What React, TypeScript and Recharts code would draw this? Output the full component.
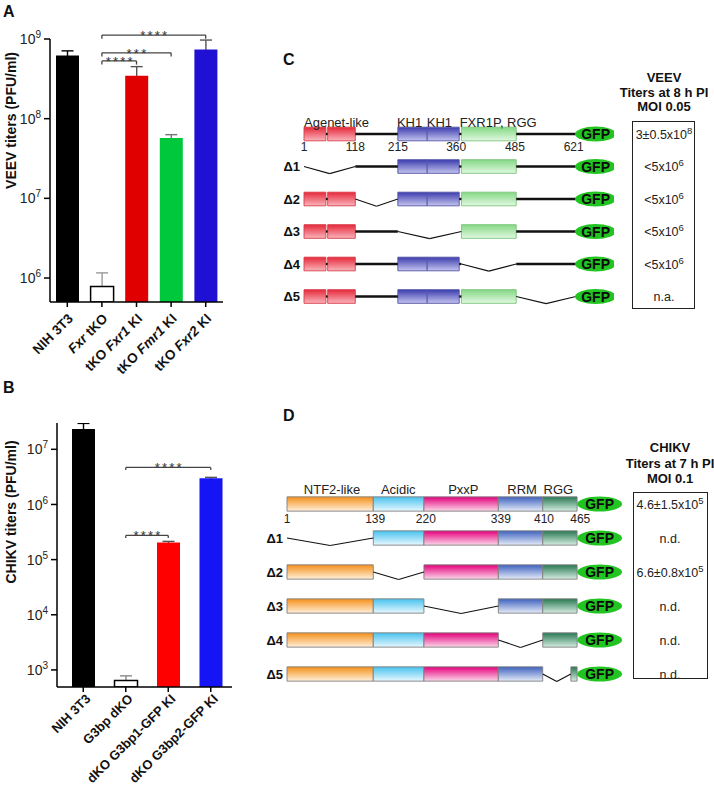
import React from "react";
import {
  BarChart,
  Bar,
  Cell,
  XAxis,
  YAxis,
  ReferenceLine,
  ReferenceArea,
  ReferenceDot,
  ComposedChart,
  Scatter,
} from "recharts";

const FONT = '"Liberation Sans", Arial, Helvetica, sans-serif';

// ---------- A: VEEV titers ----------
const A_CATEGORIES = ["NIH 3T3", "Fxr tKO", "tKO Fxr1 KI", "tKO Fmr1 KI", "tKO Fxr2 KI"];
const A_ITALIC = ["", "Fxr", "Fxr1", "Fmr1", "Fxr2"];
const A_TITERS = [6.2e8, 7.8e5, 3.45e8, 5.7e7, 7.4e8];
const A_ERR_TOP = [7.1e8, 1.16e6, 4.5e8, 6.3e7, 9.7e8];
const A_TICKS = [1e6, 1e7, 1e8, 1e9];
const A_SIG = [
  { from: "Fxr tKO", to: "tKO Fxr2 KI", y: 1.12e9, stars: "****" },
  { from: "Fxr tKO", to: "tKO Fmr1 KI", y: 6.7e8, stars: "***" },
  { from: "Fxr tKO", to: "tKO Fxr1 KI", y: 5.3e8, stars: "****" },
];

// ---------- B: CHIKV titers ----------
const B_CATEGORIES = ["NIH 3T3", "G3bp dKO", "dKO G3bp1-GFP KI", "dKO G3bp2-GFP KI"];
const B_TITERS = [2.33e7, 640, 2.05e5, 3.0e6];
const B_ERR_TOP = [2.95e7, 780, 2.14e5, 3.1e6];
const B_TICKS = [1e3, 1e4, 1e5, 1e6, 1e7];
const B_SIG = [
  { from: "G3bp dKO", to: "dKO G3bp2-GFP KI", y: 4.7e6, stars: "****" },
  { from: "G3bp dKO", to: "dKO G3bp1-GFP KI", y: 2.75e5, stars: "****" },
];

// ---------- C: FXR constructs (aa positions) ----------
const ROWS = [0, 1, 2, 3, 4, 5];
const C_PIECES = [
  { from: 1, to: 51, kind: "agenet" },
  { from: 51, to: 55, kind: "linker" },
  { from: 55, to: 118, kind: "agenet" },
  { from: 118, to: 215, kind: "linker" },
  { from: 215, to: 282, kind: "kh" },
  { from: 282, to: 355, kind: "kh" },
  { from: 355, to: 360, kind: "linker" },
  { from: 360, to: 485, kind: "rgg" },
  { from: 485, to: 621, kind: "linker" },
];
const C_DELETIONS = [
  [1, 118],
  [118, 215],
  [215, 360],
  [360, 485],
  [485, 621],
];
const C_DOMAIN_LABELS = [
  { text: "Agenet-like", at: 1 },
  { text: "KH1", at: 213 },
  { text: "KH1", at: 281 },
  { text: "FXR1P, RGG", at: 356 },
];
const C_POSITIONS = [
  { text: "1", at: 1 },
  { text: "118", at: 118 },
  { text: "215", at: 215 },
  { text: "360", at: 348 },
  { text: "485", at: 482 },
  { text: "621", at: 616 },
];
const C_TITERS = [
  ["3\u00b10.5x10", "8"],
  ["<5x10", "6"],
  ["<5x10", "6"],
  ["<5x10", "6"],
  ["<5x10", "6"],
  ["n.a.", ""],
];
const C_GFP_AT = 666;

// ---------- D: G3BP constructs ----------
const D_PIECES = [
  { from: 1, to: 139, kind: "ntf2" },
  { from: 139, to: 220, kind: "acidic" },
  { from: 220, to: 339, kind: "pxxp" },
  { from: 339, to: 410, kind: "rrm" },
  { from: 410, to: 465, kind: "rggD" },
];
const D_DELETIONS = [
  [1, 139],
  [139, 220],
  [220, 339],
  [339, 410],
  [410, 455],
];
const D_DOMAIN_LABELS = [
  { text: "NTF2-like", at: 73 },
  { text: "Acidic", at: 179 },
  { text: "PxxP", at: 283 },
  { text: "RRM", at: 377 },
  { text: "RGG", at: 435 },
];
const D_POSITIONS = [
  { text: "1", at: 1 },
  { text: "139", at: 142 },
  { text: "220", at: 223 },
  { text: "339", at: 343 },
  { text: "410", at: 412 },
  { text: "465", at: 470 },
];
const D_TITERS = [
  ["4.6\u00b11.5x10", "5"],
  ["n.d.", ""],
  ["6.6\u00b10.8x10", "5"],
  ["n.d.", ""],
  ["n.d.", ""],
  ["n.d.", ""],
];
const D_GFP_AT = 501;

// ---------- styles ----------
const A_COLORS = ["#000000", "#ffffff", "#e00000", "#00c83c", "#2010d4"];
const A_ERR_COLORS = ["#000", "#999", "#555", "#777", "#555"];
const B_COLORS = ["#000000", "#ffffff", "#ff0000", "#1414f5"];
const B_ERR_COLORS = ["#000", "#888", "#555", "#555"];

const DOMAIN_STYLE: Record<string, { top: string; bottom: string; stroke: string }> = {
  agenet: { top: "#e6283a", bottom: "#f9b5bc", stroke: "#d8404c" },
  kh: { top: "#3c3cae", bottom: "#c4c4ef", stroke: "#5656a6" },
  rgg: { top: "#84d884", bottom: "#e2f8e2", stroke: "#7cc47c" },
  ntf2: { top: "#f5901a", bottom: "#fff0dc", stroke: "#808080" },
  acidic: { top: "#48c2ee", bottom: "#e8f8fe", stroke: "#808080" },
  pxxp: { top: "#e4007c", bottom: "#fcd8ea", stroke: "#808080" },
  rrm: { top: "#3e62bf", bottom: "#e6ecf8", stroke: "#808080" },
  rggD: { top: "#277852", bottom: "#d8ede2", stroke: "#808080" },
};

// ---------- helpers ----------
function CategoryTick(props: any) {
  const { x, payload, index, italics, fsz, offX, baseY } = props;
  const name: string = payload.value;
  const word: string = italics ? italics[index] : "";
  const pos = word ? name.indexOf(word) : -1;
  const spans =
    pos < 0
      ? [{ t: name, i: false }]
      : [
          { t: name.slice(0, pos), i: false },
          { t: word, i: true },
          { t: name.slice(pos + word.length), i: false },
        ].filter((s) => s.t);
  return (
    <g transform={`translate(${x + offX},${baseY})`}>
      <text
        transform="rotate(-45)"
        textAnchor="end"
        dy="0.35em"
        fontFamily={FONT}
        fontSize={fsz}
        fontWeight="bold"
        fill="#111"
      >
        {spans.map((s, k) => (
          <tspan key={k} fontStyle={s.i ? "italic" : "normal"}>
            {s.t}
          </tspan>
        ))}
      </text>
    </g>
  );
}

function PowerTick({ x, y, payload }: any) {
  const e = Math.round(Math.log10(payload.value));
  return (
    <text x={x - 1} y={y} dy="0.36em" textAnchor="end" fontFamily={FONT} fontSize={14} fill="#222">
      <tspan>10</tspan>
      <tspan dy={-6} fontSize={10}>
        {e}
      </tspan>
    </text>
  );
}

function AxisTitle({ viewBox, caption, shift }: any) {
  const x = 11;
  const y = viewBox.y + viewBox.height / 2 + shift;
  return (
    <text
      x={x}
      y={y}
      transform={`rotate(-90 ${x} ${y})`}
      textAnchor="middle"
      dominantBaseline="central"
      fontFamily={FONT}
      fontSize={14}
      fontWeight="bold"
      fill="#111"
    >
      {caption}
    </text>
  );
}

function Stars({ viewBox, stars }: any) {
  return (
    <text
      x={viewBox.x + viewBox.width / 2 + 1}
      y={viewBox.y + 5}
      textAnchor="middle"
      fontFamily={FONT}
      fontSize={13}
      fill="#333"
      letterSpacing={2.2}
    >
      {stars}
    </text>
  );
}

function ErrorWhisker(props: any) {
  const { x, y, width, height, index, colors } = props;
  const cx = x + width / 2;
  return (
    <g stroke={colors[index]} strokeWidth={1.4}>
      <line x1={cx} x2={cx} y1={y} y2={y + height} />
      <line x1={cx - 6} x2={cx + 6} y1={y} y2={y} />
    </g>
  );
}

type Sig = { from: string; to: string; y: number; stars: string };

function TiterChart(props: {
  categories: string[];
  titers: number[];
  errTop: number[];
  italics?: string[];
  colors: string[];
  errColors: string[];
  ticks: number[];
  domain: [number, number];
  sig: Sig[];
  caption: string;
  shift: number;
  width: number;
  height: number;
  margin: { top: number; right: number; bottom: number; left: number };
  yWidth: number;
  xHeight: number;
  padLeft: number;
  labelSize: number;
  labelOffX: number;
  labelOffY: number;
}) {
  const data = props.categories.map((name, i) => ({
    name,
    titer: props.titers[i],
    err: props.errTop[i],
  }));
  const axis = { stroke: "#000", strokeWidth: 1.5 };
  const axisY = props.height - props.margin.bottom - props.xHeight;
  return (
    <BarChart
      width={props.width}
      height={props.height}
      data={data}
      margin={props.margin}
      barSize={23}
      barGap={-23}
    >
      <XAxis
        dataKey="name"
        interval={0}
        height={props.xHeight}
        padding={{ left: props.padLeft, right: 0 }}
        axisLine={axis}
        tickLine={axis}
        tickSize={5}
        tickMargin={2}
        tick={
          <CategoryTick
            italics={props.italics}
            fsz={props.labelSize}
            offX={props.labelOffX}
            baseY={axisY + props.labelOffY}
          />
        }
      />
      <YAxis
        type="number"
        scale="log"
        domain={props.domain}
        allowDataOverflow
        ticks={props.ticks}
        interval={0}
        width={props.yWidth}
        axisLine={axis}
        tickLine={axis}
        tickSize={6}
        tick={<PowerTick />}
        label={<AxisTitle caption={props.caption} shift={props.shift} />}
      />
      <Bar
        dataKey="err"
        isAnimationActive={false}
        shape={(p: any) => <ErrorWhisker {...p} colors={props.errColors} />}
      />
      <Bar dataKey="titer" isAnimationActive={false}>
        {data.map((d, i) => (
          <Cell
            key={d.name}
            fill={props.colors[i]}
            stroke={props.colors[i] === "#ffffff" ? "#000" : "none"}
            strokeWidth={1.5}
          />
        ))}
      </Bar>
      {props.sig.flatMap((s, k) => [
        <ReferenceLine
          key={`h${k}`}
          segment={[
            { x: s.from, y: s.y },
            { x: s.to, y: s.y },
          ]}
          stroke="#444"
          strokeWidth={1.3}
          ifOverflow="visible"
          label={<Stars stars={s.stars} />}
        />,
        <ReferenceLine
          key={`l${k}`}
          segment={[
            { x: s.from, y: s.y },
            { x: s.from, y: s.y * 0.9 },
          ]}
          stroke="#444"
          strokeWidth={1.3}
          ifOverflow="visible"
        />,
        <ReferenceLine
          key={`r${k}`}
          segment={[
            { x: s.to, y: s.y },
            { x: s.to, y: s.y * 0.9 },
          ]}
          stroke="#444"
          strokeWidth={1.3}
          ifOverflow="visible"
        />,
      ])}
    </BarChart>
  );
}

// ---------- domain maps ----------
function subtract(a: number, b: number, del: number[] | null): number[][] {
  if (!del || b <= del[0] || a >= del[1]) return [[a, b]];
  const out: number[][] = [];
  if (a < del[0]) out.push([a, del[0]]);
  if (b > del[1]) out.push([del[1], b]);
  return out;
}

function DeltaTick({ x, y, payload }: any) {
  return (
    <text x={x} y={y} dy="0.36em" textAnchor="end" fontFamily={FONT} fontSize={13} fontWeight="bold" fill="#111">
      {"\u0394" + payload.value}
    </text>
  );
}

function TiterTick({ x, y, payload, titers, offset }: any) {
  const t = titers[payload.value];
  return (
    <text x={x + offset} y={y} dy="0.36em" textAnchor="middle" fontFamily={FONT} fontSize={12.5} fill="#222">
      <tspan>{t[0]}</tspan>
      {t[1] ? (
        <tspan dy={-5} fontSize={9.5}>
          {t[1]}
        </tspan>
      ) : null}
    </text>
  );
}

function GfpShape({ cx, cy, rx }: any) {
  return (
    <g>
      <ellipse cx={cx} cy={cy} rx={rx} ry={7.5} fill="#22c422" />
      <text x={cx} y={cy} dy="0.36em" textAnchor="middle" fontFamily={FONT} fontSize={14} fontWeight="bold" fill="#0a0a0a">
        GFP
      </text>
    </g>
  );
}

function DomainChart(props: {
  id: string;
  pieces: { from: number; to: number; kind: string }[];
  deletions: number[][];
  labels: { text: string; at: number }[];
  positions: { text: string; at: number }[];
  titers: string[][];
  gfpAt: number;
  gfpRx: number;
  labelAnchor: "start" | "middle";
  labelY: number;
  numberY: number;
  width: number;
  height: number;
  margin: { top: number; right: number; bottom: number; left: number };
  leftW: number;
  rightW: number;
  xMax: number;
  titerOffset: number;
}) {
  const h = 0.21;
  const dip = 0.22;
  const els: React.ReactNode[] = [];
  ROWS.forEach((r) => {
    const del = r === 0 ? null : props.deletions[r - 1];
    props.pieces.forEach((p, k) => {
      subtract(p.from, p.to, del).forEach(([a, b], j) => {
        const key = `${r}-${k}-${j}`;
        if (p.kind === "linker") {
          els.push(
            <ReferenceLine
              key={key}
              yAxisId="left"
              segment={[
                { x: a, y: r },
                { x: b, y: r },
              ]}
              stroke="#111"
              strokeWidth={2.3}
              ifOverflow="visible"
            />
          );
        } else {
          els.push(
            <ReferenceArea
              key={key}
              yAxisId="left"
              x1={a}
              x2={b}
              y1={r - h}
              y2={r + h}
              fill={`url(#${props.id}-${p.kind})`}
              fillOpacity={1}
              stroke={DOMAIN_STYLE[p.kind].stroke}
              strokeWidth={0.9}
              ifOverflow="visible"
            />
          );
        }
      });
    });
    if (del) {
      const mid = (del[0] + del[1]) / 2;
      els.push(
        <ReferenceLine
          key={`v1-${r}`}
          yAxisId="left"
          segment={[
            { x: del[0], y: r },
            { x: mid, y: r + dip },
          ]}
          stroke="#111"
          strokeWidth={1.1}
          ifOverflow="visible"
        />,
        <ReferenceLine
          key={`v2-${r}`}
          yAxisId="left"
          segment={[
            { x: mid, y: r + dip },
            { x: del[1], y: r },
          ]}
          stroke="#111"
          strokeWidth={1.1}
          ifOverflow="visible"
        />
      );
    }
  });
  const kinds = Array.from(new Set(props.pieces.map((p) => p.kind))).filter((k) => k !== "linker");
  return (
    <ComposedChart width={props.width} height={props.height} margin={props.margin}>
      <defs>
        {kinds.map((k) => (
          <linearGradient key={k} id={`${props.id}-${k}`} x1="0" y1="0" x2="0" y2="1">
            <stop offset="0%" stopColor={DOMAIN_STYLE[k].top} />
            <stop offset="100%" stopColor={DOMAIN_STYLE[k].bottom} />
          </linearGradient>
        ))}
      </defs>
      <XAxis type="number" dataKey="x" domain={[1, props.xMax]} allowDataOverflow hide />
      <YAxis
        yAxisId="left"
        type="number"
        domain={[-1, 6]}
        reversed
        allowDataOverflow
        ticks={[1, 2, 3, 4, 5]}
        interval={0}
        width={props.leftW}
        axisLine={false}
        tickLine={false}
        tickSize={0}
        tickMargin={4}
        tick={<DeltaTick />}
      />
      <YAxis
        yAxisId="right"
        orientation="right"
        type="number"
        domain={[-1, 6]}
        reversed
        allowDataOverflow
        ticks={ROWS}
        interval={0}
        width={props.rightW}
        axisLine={false}
        tickLine={false}
        tickSize={0}
        tickMargin={0}
        tick={<TiterTick titers={props.titers} offset={props.titerOffset} />}
      />
      {els}
      {props.labels.map((l, k) => (
        <ReferenceDot
          key={`lab${k}`}
          yAxisId="left"
          x={l.at}
          y={props.labelY}
          r={0}
          ifOverflow="visible"
          shape={(p: any) => (
            <text x={p.cx} y={p.cy} textAnchor={props.labelAnchor} fontFamily={FONT} fontSize={13} fill="#222">
              {l.text}
            </text>
          )}
        />
      ))}
      {props.positions.map((l, k) => (
        <ReferenceDot
          key={`pos${k}`}
          yAxisId="left"
          x={l.at}
          y={props.numberY}
          r={0}
          ifOverflow="visible"
          shape={(p: any) => (
            <text x={p.cx} y={p.cy} textAnchor="middle" fontFamily={FONT} fontSize={12} fill="#222">
              {l.text}
            </text>
          )}
        />
      ))}
      <Scatter
        yAxisId="left"
        data={ROWS.map((r) => ({ x: props.gfpAt, y: r }))}
        dataKey="y"
        isAnimationActive={false}
        shape={<GfpShape rx={props.gfpRx} />}
      />
    </ComposedChart>
  );
}

const letter: React.CSSProperties = {
  position: "absolute",
  fontFamily: FONT,
  fontWeight: "bold",
  fontSize: 16,
  lineHeight: "16px",
  color: "#111",
};

const header: React.CSSProperties = {
  position: "absolute",
  width: 120,
  textAlign: "center",
  fontFamily: FONT,
  fontWeight: "bold",
  fontSize: 13,
  color: "#111",
};

export default function App() {
  return (
    <div style={{ position: "absolute", left: 0, top: 0, width: 714, height: 803, background: "#fff", overflow: "hidden" }}>
      <div style={{ position: "absolute", left: 0, top: 0 }}>
        <TiterChart
          categories={A_CATEGORIES}
          titers={A_TITERS}
          errTop={A_ERR_TOP}
          italics={A_ITALIC}
          colors={A_COLORS}
          errColors={A_ERR_COLORS}
          ticks={A_TICKS}
          domain={[5e5, 1e9]}
          sig={A_SIG}
          caption="VEEV titers (PFU/ml)"
          shift={-50}
          width={240}
          height={400}
          margin={{ top: 39, right: 17, bottom: 0, left: 0 }}
          yWidth={50}
          xHeight={98}
          padLeft={0}
          labelSize={13.5}
          labelOffX={3.2}
          labelOffY={14}
        />
      </div>
      <div style={{ position: "absolute", left: 0, top: 400 }}>
        <TiterChart
          categories={B_CATEGORIES}
          titers={B_TITERS}
          errTop={B_ERR_TOP}
          colors={B_COLORS}
          errColors={B_ERR_COLORS}
          ticks={B_TICKS}
          domain={[490, 3e7]}
          sig={B_SIG}
          caption="CHIKV titers (PFU/ml)"
          shift={-43}
          width={250}
          height={403}
          margin={{ top: 23, right: 18, bottom: 3, left: 0 }}
          yWidth={57}
          xHeight={113}
          padLeft={5}
          labelSize={13}
          labelOffX={4.8}
          labelOffY={9.4}
        />
      </div>

      <div style={{ position: "absolute", left: 260, top: 60 }}>
        <DomainChart
          id="c"
          pieces={C_PIECES}
          deletions={C_DELETIONS}
          labels={C_DOMAIN_LABELS}
          positions={C_POSITIONS}
          titers={C_TITERS}
          gfpAt={C_GFP_AT}
          gfpRx={20.5}
          labelAnchor="start"
          labelY={-0.22}
          numberY={0.52}
          width={454}
          height={290}
          margin={{ top: 41.5, right: 0, bottom: 21, left: 0 }}
          leftW={44}
          rightW={100}
          xMax={708}
          titerOffset={50}
        />
      </div>
      <div style={{ position: "absolute", left: 260, top: 430 }}>
        <DomainChart
          id="d"
          pieces={D_PIECES}
          deletions={D_DELETIONS}
          labels={D_DOMAIN_LABELS}
          positions={D_POSITIONS}
          titers={D_TITERS}
          gfpAt={D_GFP_AT}
          gfpRx={22.5}
          labelAnchor="middle"
          labelY={-0.29}
          numberY={0.56}
          width={454}
          height={300}
          margin={{ top: 40, right: 0, bottom: 22, left: 0 }}
          leftW={27}
          rightW={90}
          xMax={540}
          titerOffset={46}
        />
      </div>

      <div style={{ ...letter, left: 3, top: 4 }}>A</div>
      <div style={{ ...letter, left: 3, top: 380 }}>B</div>
      <div style={{ ...letter, left: 283, top: 52 }}>C</div>
      <div style={{ ...letter, left: 283, top: 408 }}>D</div>

      <div style={{ ...header, left: 604, top: 71, lineHeight: "14.5px" }}>
        VEEV
        <br />
        Titers at 8 h PI
        <br />
        MOI 0.05
      </div>
      <div style={{ ...header, left: 610, top: 440, lineHeight: "15.5px" }}>
        CHIKV
        <br />
        Titers at 7 h PI
        <br />
        MOI 0.1
      </div>

      <div style={{ position: "absolute", left: 632, top: 121, width: 63, height: 188, border: "1.5px solid #222", boxSizing: "border-box" }} />
      <div style={{ position: "absolute", left: 633, top: 492, width: 75, height: 187, border: "1.5px solid #222", boxSizing: "border-box" }} />
    </div>
  );
}
